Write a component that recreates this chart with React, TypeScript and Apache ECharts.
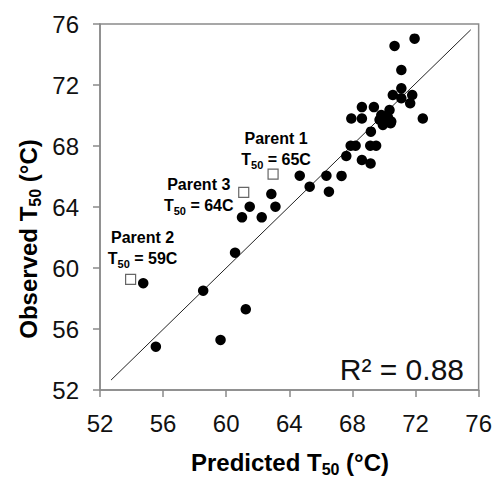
import React, { useEffect, useRef } from "react";
import * as echarts from "echarts";

// ---- data ----
const predicted = [
  70.67, 71.94, 71.1, 71.1, 70.56, 71.1, 71.79, 71.66, 68.6, 69.36,
  67.93, 68.6, 70.35, 69.83, 70.25, 70.46, 69.93, 69.72, 70.42, 72.46,
  69.17, 67.89, 68.2, 69.13, 69.5, 67.61, 68.6, 69.15, 64.66, 66.35,
  67.31, 65.29, 66.51, 62.86, 61.49, 63.12, 61.0, 62.25, 60.56, 58.54,
  61.24, 59.64, 55.54, 54.74,
];
const observed = [
  74.56, 75.04, 72.98, 71.78, 71.34, 71.13, 71.34, 70.8, 70.55, 70.55,
  69.8, 69.8, 70.36, 70.03, 69.88, 69.6, 69.38, 69.72, 69.49, 69.8,
  68.94, 68.02, 68.02, 68.02, 68.02, 67.34, 67.08, 66.85, 66.05, 66.05,
  66.04, 65.33, 65.0, 64.85, 64.02, 64.02, 63.32, 63.32, 61.0, 58.51,
  57.29, 55.28, 54.84, 59.0,
];
const parentNames = ["Parent 1", "Parent 2", "Parent 3"];
const parentT50 = ["65C", "59C", "64C"];
const parentPredicted = [62.97, 53.94, 61.11];
const parentObserved = [66.16, 59.26, 64.96];
const fitX = [52.7, 75.5];
const fitY = [52.65, 75.62];
const tickValues = [52, 56, 60, 64, 68, 72, 76];
const r2Text = "R² = 0.88";

// ---- layout (not data) ----
const labelOffsets = [
  [3, -25],
  [12, -31],
  [-45, 3],
];

const FONT = "Arial, 'Liberation Sans', sans-serif";

export default function App() {
  const ref = useRef<HTMLDivElement>(null);
  useEffect(() => {
    if (!ref.current) return;
    const chart = echarts.init(ref.current, undefined, { renderer: "svg" });
    const axisCommon = {
      type: "value" as const,
      min: tickValues[0],
      max: tickValues[tickValues.length - 1],
      interval: 4,
      axisLine: { show: true, lineStyle: { color: "#8a8a8a", width: 1.5 } },
      axisTick: {
        show: true,
        inside: false,
        length: 7,
        lineStyle: { color: "#8a8a8a", width: 1.5 },
      },
      splitLine: { show: false },
    };
    const annRich = {
      b: { fontFamily: FONT, fontSize: 16, fontWeight: "bold" as const, color: "#000", lineHeight: 21 },
      s: {
        fontFamily: FONT,
        fontSize: 11,
        fontWeight: "bold" as const,
        color: "#000",
        lineHeight: 13,
        verticalAlign: "bottom" as const,
      },
    };
    const titleRich = {
      b: { fontFamily: FONT, fontSize: 24, fontWeight: "bold" as const, color: "#111", lineHeight: 30 },
      s: {
        fontFamily: FONT,
        fontSize: 16,
        fontWeight: "bold" as const,
        color: "#111",
        lineHeight: 18,
        verticalAlign: "bottom" as const,
      },
    };
    chart.setOption({
      animation: false,
      backgroundColor: "#fff",
      grid: {
        left: 100,
        top: 24,
        right: 16,
        bottom: 87,
        show: true,
        borderColor: "#8a8a8a",
        borderWidth: 1.5,
      },
      xAxis: {
        ...axisCommon,
        axisLabel: { fontFamily: FONT, fontSize: 24, color: "#111", margin: 21 },
      },
      yAxis: {
        ...axisCommon,
        axisLabel: { fontFamily: FONT, fontSize: 24, color: "#111", margin: 21 },
      },
      graphic: [
        {
          type: "text",
          x: 290,
          y: 462,
          style: {
            text: "{b|Predicted T}{s|50}{b| (°C)}",
            rich: titleRich,
            align: "center",
            verticalAlign: "middle",
          },
        },
        {
          type: "text",
          x: 28,
          y: 239,
          rotation: Math.PI / 2,
          style: {
            text: "{b|Observed T}{s|50}{b| (°C)}",
            rich: titleRich,
            align: "center",
            verticalAlign: "middle",
          },
        },
        {
          type: "text",
          x: 464,
          y: 369,
          style: {
            text: r2Text,
            fontFamily: FONT,
            fontSize: 30,
            fill: "#111",
            align: "right",
            verticalAlign: "middle",
          },
        },
      ],
      series: [
        {
          type: "line",
          data: fitX.map((x, i) => [x, fitY[i]]),
          symbol: "none",
          lineStyle: { color: "#222", width: 1 },
          silent: true,
          z: 1,
        },
        {
          type: "scatter",
          data: predicted.map((x, i) => [x, observed[i]]),
          symbol: "circle",
          symbolSize: 10.5,
          itemStyle: { color: "#000", opacity: 1 },
          z: 3,
        },
        {
          type: "scatter",
          data: parentPredicted.map((x, i) => ({
            value: [x, parentObserved[i]],
            label: {
              show: true,
              position: "inside",
              offset: labelOffsets[i],
              align: "center",
              verticalAlign: "middle",
              color: "#000",
              textBorderWidth: 0,
              formatter: `{b|${parentNames[i]}}\n{b|T}{s|50}{b| = ${parentT50[i]}}`,
              rich: annRich,
            },
          })),
          symbol: "rect",
          symbolSize: 10,
          itemStyle: { color: "#fff", borderColor: "#666", borderWidth: 1.2, opacity: 1 },
          z: 4,
        },
      ],
    });
    return () => chart.dispose();
  }, []);
  return <div ref={ref} style={{ width: 495, height: 477, position: "absolute", left: 0, top: 0 }} />;
}
